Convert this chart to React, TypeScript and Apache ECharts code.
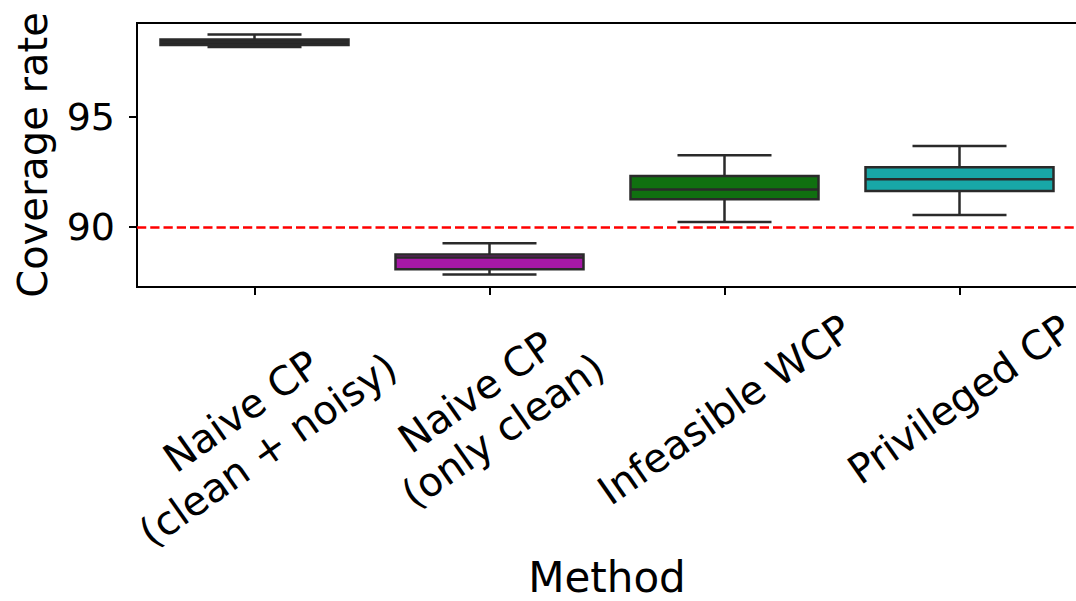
import React, { useEffect, useRef } from 'react';
import * as echarts from 'echarts';

// ---- data ----
const categories = ['Naive CP\n(clean + noisy)', 'Naive CP\n(only clean)', 'Infeasible WCP', 'Privileged CP'];
const whiskerLow = [98.17, 87.85, 90.23, 90.55];
const q1Values = [98.26, 88.08, 91.26, 91.64];
const medianValues = [98.4, 88.62, 91.7, 92.17];
const q3Values = [98.51, 88.75, 92.32, 92.71];
const whiskerHigh = [98.74, 89.27, 93.26, 93.68];
const boxColors = ['#262626', '#a718a7', '#107010', '#18a7a7'];
const yTicks = [90, 95];
const targetLine = 90;
const yRange = [87.28, 99.26];

// ---- style ----
const FONT = '"DejaVu Sans", sans-serif';
const EDGE = '#2a2a2a';
const XFS = 40;
const XLH = 47;
const GRID_TOP = 23;
const GRID_BOTTOM = 314;
const AXIS_Y = 601 - GRID_BOTTOM;
const LABEL_TOP = 305;
const ROT = 35;

export default function App() {
  const ref = useRef<HTMLDivElement>(null);
  useEffect(() => {
    if (!ref.current) return;
    const chart = echarts.init(ref.current, undefined, { renderer: 'svg' });

    // matplotlib-like placement: rotated bounding box centred on the tick, top at LABEL_TOP
    const theta = (ROT * Math.PI) / 180;
    const sin = Math.sin(theta);
    const cos = Math.cos(theta);
    const ctx = document.createElement('canvas').getContext('2d')!;
    ctx.font = `${XFS}px "DejaVu Sans"`;
    const dims = categories.map((c) => {
      const lines = c.split('\n');
      const W = Math.max(...lines.map((l) => ctx.measureText(l).width));
      const H = lines.length * XLH;
      return { H, h: (W * sin + H * cos) / 2 };
    });
    const labelMargin = Math.max(...dims.map((d) => LABEL_TOP - AXIS_Y + d.h + d.H / (2 * cos)));
    const xData = categories.map((c, i) => {
      const { H, h } = dims[i];
      const D = LABEL_TOP + h - AXIS_Y - labelMargin; // <= 0
      const pBottom = Math.max(0, -D * cos - H / 2);
      const pLeft = -2 * D * sin;
      return {
        value: c,
        textStyle: {
          align: 'center',
          verticalAlign: 'bottom',
          fontSize: XFS,
          lineHeight: XLH,
          color: '#000',
          fontFamily: FONT,
          padding: [0, 0, pBottom, pLeft],
        },
      };
    });

    const boxData = categories.map((_, i) => [
      i,
      whiskerLow[i],
      q1Values[i],
      medianValues[i],
      q3Values[i],
      whiskerHigh[i],
    ]);

    chart.setOption({
      animation: false,
      textStyle: { fontFamily: FONT },
      grid: {
        left: 137,
        right: -1,
        top: GRID_TOP,
        bottom: GRID_BOTTOM,
        show: true,
        borderColor: '#000',
        borderWidth: 2,
        containLabel: false,
        outerBoundsMode: 'none',
      },
      xAxis: {
        type: 'category',
        data: xData,
        name: 'Method',
        nameLocation: 'middle',
        nameGap: 265,
        nameMoveOverlap: false,
        nameTextStyle: { fontSize: 42, color: '#000', fontFamily: FONT, lineHeight: 50 },
        axisLine: { show: true, lineStyle: { color: '#000', width: 2 } },
        axisTick: { show: true, alignWithLabel: true, length: 8, lineStyle: { color: '#000', width: 2 } },
        axisLabel: {
          interval: 0,
          rotate: ROT,
          align: 'center',
          verticalAlign: 'bottom',
          margin: labelMargin,
          fontSize: XFS,
          lineHeight: XLH,
          color: '#000',
          fontFamily: FONT,
          hideOverlap: false,
        },
        splitLine: { show: false },
      },
      yAxis: {
        type: 'value',
        min: yRange[0],
        max: yRange[1],
        name: 'Coverage rate',
        nameLocation: 'middle',
        nameGap: 80,
        nameMoveOverlap: false,
        nameTextStyle: { fontSize: 40, color: '#000', fontFamily: FONT, lineHeight: 48 },
        axisLine: { show: true, lineStyle: { color: '#000', width: 2 } },
        axisTick: { show: true, customValues: yTicks, length: 8, lineStyle: { color: '#000', width: 2 } },
        axisLabel: { customValues: yTicks, fontSize: 38, color: '#000', margin: 22, fontFamily: FONT },
        splitLine: { show: false },
      },
      series: [
        {
          type: 'custom',
          data: boxData,
          encode: { x: 0, y: [1, 2, 3, 4, 5] },
          renderItem: (params: any, api: any) => {
            const idx = api.value(0);
            const pLow = api.coord([idx, api.value(1)]);
            const pQ1 = api.coord([idx, api.value(2)]);
            const pMed = api.coord([idx, api.value(3)]);
            const pQ3 = api.coord([idx, api.value(4)]);
            const pHigh = api.coord([idx, api.value(5)]);
            const bw = api.size([1, 0])[0] * 0.8;
            const cw = bw / 2;
            const cx = pLow[0];
            const ls = { stroke: EDGE, lineWidth: 2.5 };
            return {
              type: 'group',
              children: [
                { type: 'line', shape: { x1: cx, y1: pQ3[1], x2: cx, y2: pHigh[1] }, style: ls },
                { type: 'line', shape: { x1: cx, y1: pQ1[1], x2: cx, y2: pLow[1] }, style: ls },
                { type: 'line', shape: { x1: cx - cw / 2, y1: pHigh[1], x2: cx + cw / 2, y2: pHigh[1] }, style: ls },
                { type: 'line', shape: { x1: cx - cw / 2, y1: pLow[1], x2: cx + cw / 2, y2: pLow[1] }, style: ls },
                {
                  type: 'rect',
                  shape: { x: cx - bw / 2, y: pQ3[1], width: bw, height: pQ1[1] - pQ3[1] },
                  style: { fill: boxColors[idx], stroke: EDGE, lineWidth: 2.5 },
                },
                { type: 'line', shape: { x1: cx - bw / 2, y1: pMed[1], x2: cx + bw / 2, y2: pMed[1] }, style: ls },
              ],
            };
          },
          markLine: {
            silent: true,
            symbol: 'none',
            label: { show: false },
            lineStyle: { color: '#ff0000', type: [9.25, 4], width: 2.5 },
            data: [{ yAxis: targetLine }],
          },
        },
      ],
    });
    return () => chart.dispose();
  }, []);
  return <div ref={ref} style={{ position: 'absolute', left: 0, top: 0, width: 1076, height: 601 }} />;
}
